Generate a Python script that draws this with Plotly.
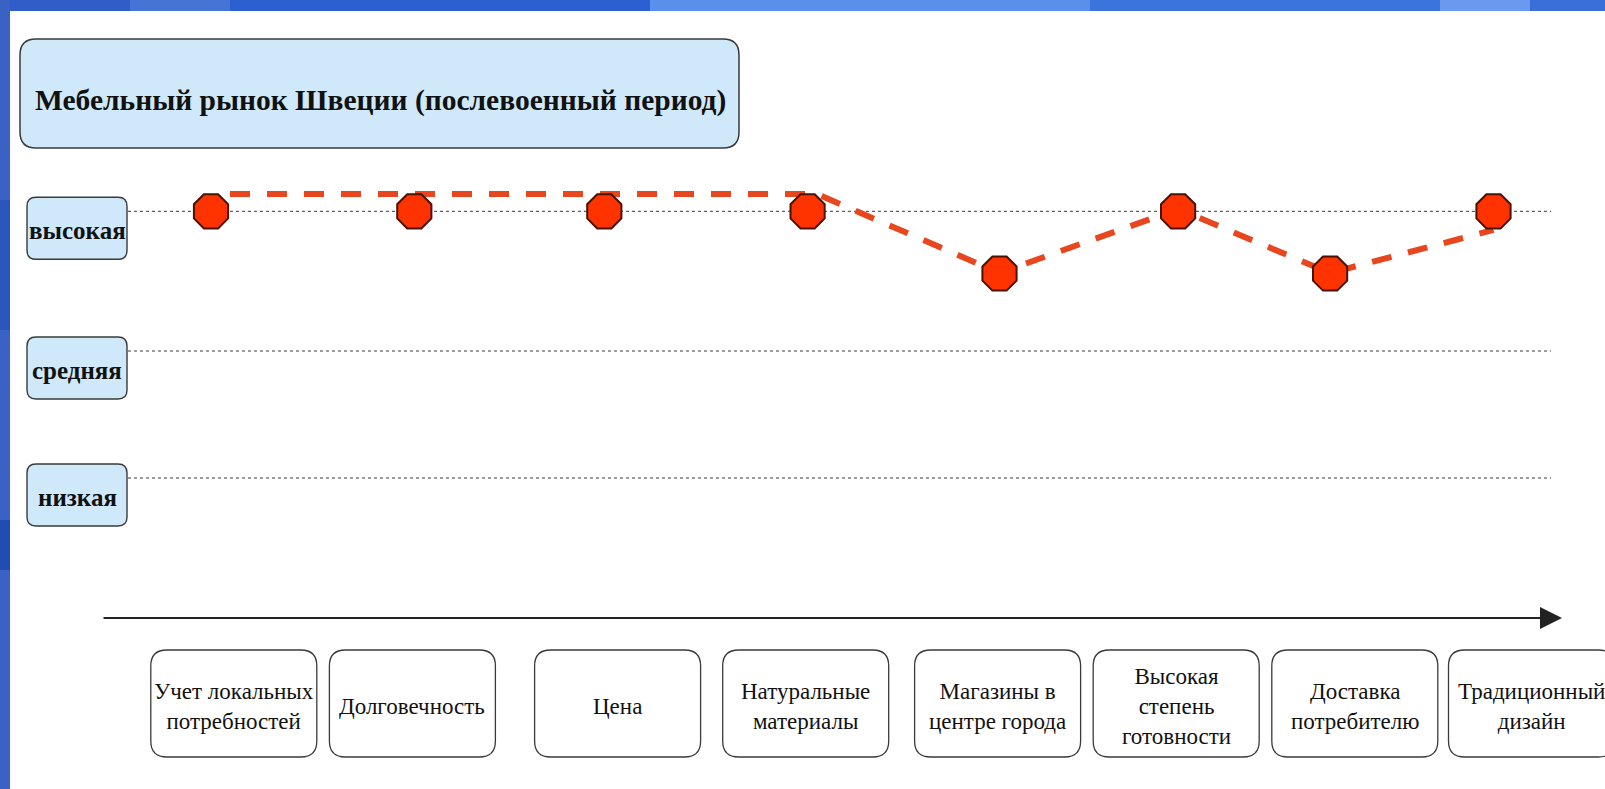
import plotly.graph_objects as go

# ---------------- data ----------------
title_text = "Мебельный рынок Швеции (послевоенный период)"
factors = [
    "Учет локальных<br>потребностей",
    "Долговечность",
    "Цена",
    "Натуральные<br>материалы",
    "Магазины в<br>центре города",
    "Высокая<br>степень<br>готовности",
    "Доставка<br>потребителю",
    "Традиционный<br>дизайн",
]
factor_x = [0.0, 1.07, 2.07, 3.14, 4.15, 5.09, 5.89, 6.75]      # marker positions
scores = [3.1, 3.1, 3.1, 3.1, 2.61, 3.1, 2.61, 3.1]              # market level per factor
label_x = [0.12, 1.06, 2.14, 3.13, 4.14, 5.08, 6.02, 6.95]       # category label centres
trend_x = [0.10, 3.19, 4.15, 5.09, 5.89, 6.75]                   # dashed trend line
trend_y = [3.236, 3.236, 2.614, 3.118, 2.614, 2.953]
levels = ["низкая", "средняя", "высокая"]
level_y = [1.0, 2.0, 3.1]

W, H = 1605, 789
FONT = "Liberation Serif"

fig = go.Figure()

fig.add_trace(go.Scatter(
    x=trend_x, y=trend_y, mode="lines",
    line=dict(color="#e8461e", width=6, dash="20px,17px"),
    hoverinfo="skip"))
fig.add_trace(go.Scatter(
    x=factor_x, y=scores, mode="markers",
    marker=dict(symbol="octagon", size=37, color="#ff3300",
                line=dict(color="#4a1200", width=2)),
    hoverinfo="skip"))


def rr(x0, x1, yt, yb, r):
    # rounded rectangle, pixel offsets, y upward (yt > yb)
    return (f"M {x0+r},{yt} L {x1-r},{yt} Q {x1},{yt} {x1},{yt-r} "
            f"L {x1},{yb+r} Q {x1},{yb} {x1-r},{yb} L {x0+r},{yb} "
            f"Q {x0},{yb} {x0},{yb+r} L {x0},{yt-r} Q {x0},{yt} {x0+r},{yt} Z")


shapes = []
# background decoration: top band and left strip
band = [(0, 130, "#2f5ec6"), (130, 230, "#4474d6"), (230, 650, "#2c5fd0"),
        (650, 1090, "#5b8fec"), (1090, 1440, "#3c74dd"), (1440, 1530, "#6a9af0"),
        (1530, 1605, "#3a6fd8")]
for a, b, c in band:
    shapes.append(dict(type="rect", xref="paper", yref="paper",
                       x0=a / W, x1=b / W, y0=1 - 11 / H, y1=1,
                       fillcolor=c, line=dict(width=0), layer="below"))
strip = [(0, 200, "#3a62c4"), (200, 330, "#2a56bd"), (330, 520, "#3a62c4"),
         (520, 570, "#1f4db3"), (570, 789, "#3a62c4")]
for a, b, c in strip:
    shapes.append(dict(type="rect", xref="paper", yref="paper",
                       x0=0, x1=10 / W, y0=1 - b / H, y1=1 - a / H,
                       fillcolor=c, line=dict(width=0), layer="below"))

# level grid lines
for ly in level_y:
    shapes.append(dict(type="line", xref="x", yref="y", x0=-0.437, x1=7.053,
                       y0=ly, y1=ly, line=dict(color="#3a3a3a", width=1, dash="dot"),
                       layer="below"))

# title box
shapes.append(dict(type="path", xref="paper", yref="paper",
                   xsizemode="pixel", ysizemode="pixel", xanchor=0, yanchor=1,
                   path=rr(20, 739, -39, -148, 16),
                   fillcolor="#cfe9fb", line=dict(color="#3a3a3a", width=1.5),
                   layer="below"))
# level label boxes
for ly in level_y:
    shapes.append(dict(type="path", xref="paper", yref="y",
                       xsizemode="pixel", ysizemode="pixel", xanchor=0, yanchor=ly,
                       path=rr(27, 127, 14, -48, 9),
                       fillcolor="#cfe9fb", line=dict(color="#3a3a3a", width=1.4),
                       layer="below"))
# category label boxes
for lx in label_x:
    shapes.append(dict(type="path", xref="x", yref="paper",
                       xsizemode="pixel", ysizemode="pixel", xanchor=lx, yanchor=1,
                       path=rr(-83, 83, -650, -757, 16),
                       fillcolor="white", line=dict(color="#3a3a3a", width=1.3),
                       layer="below"))

annotations = []
annotations.append(dict(xref="paper", yref="paper", x=380 / W, y=1 - 101 / H,
                        xanchor="center", yanchor="middle",
                        text="<b>" + title_text + "</b>", showarrow=False,
                        font=dict(family=FONT, size=29.5, color="#111")))
for name, ly in zip(levels, level_y):
    annotations.append(dict(xref="paper", yref="y", x=77 / W, y=ly, yshift=-19,
                            xanchor="center", yanchor="middle",
                            text="<b>" + name + "</b>", showarrow=False,
                            font=dict(family=FONT, size=25, color="#111")))
for name, lx in zip(factors, label_x):
    annotations.append(dict(xref="x", yref="paper", x=lx, y=1 - 706 / H,
                            xanchor="center", yanchor="middle",
                            text=name, showarrow=False,
                            font=dict(family=FONT, size=23, color="#111")))
# axis arrow
annotations.append(dict(xref="paper", yref="paper", x=1562 / W, y=1 - 618 / H,
                        ax=-1460, ay=0, axref="pixel", ayref="pixel",
                        text="", showarrow=True, arrowhead=2, arrowsize=2.2,
                        arrowwidth=2, arrowcolor="#222"))

fig.update_layout(
    width=W, height=H, margin=dict(l=0, r=0, t=0, b=0),
    paper_bgcolor="white", plot_bgcolor="white", showlegend=False,
    xaxis=dict(range=[-1.110526, 7.336842], visible=False, fixedrange=True),
    yaxis=dict(range=[-1.44882, 4.76378], visible=False, fixedrange=True),
    shapes=shapes, annotations=annotations,
)

fig.write_html("out.html")
